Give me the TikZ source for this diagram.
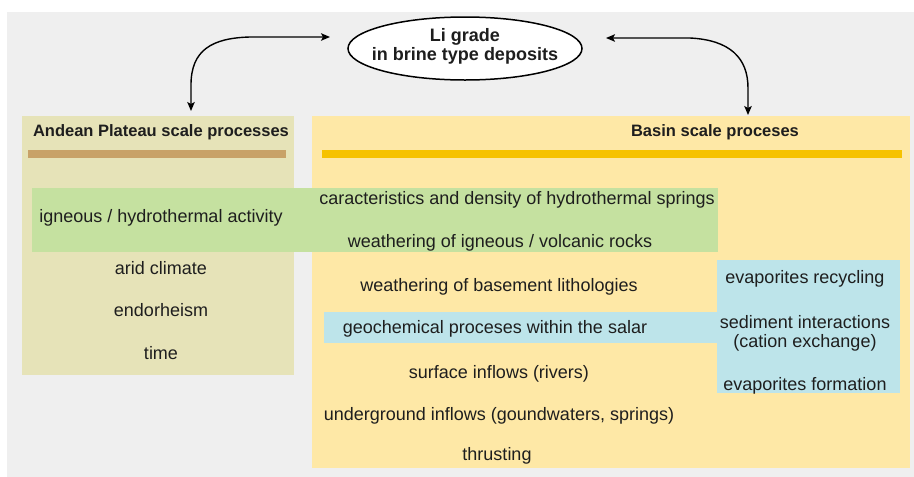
\documentclass[tikz,border=0pt]{standalone}
\usepackage{fontspec}
\setmainfont{Liberation Sans}
\usetikzlibrary{shapes.geometric,arrows.meta}
\definecolor{bggray}{RGB}{239,239,239}
\definecolor{andeanfill}{RGB}{230,227,184}
\definecolor{basinfill}{RGB}{254,232,166}
\definecolor{greenband}{RGB}{197,225,160}
\definecolor{blueband}{RGB}{189,228,234}
\definecolor{andeanbar}{RGB}{200,162,104}
\definecolor{basinbar}{RGB}{246,194,0}
\definecolor{txt}{RGB}{30,30,30}
\tikzset{
  boxnode/.style={rectangle, anchor=north west, inner sep=0, outer sep=0},
  lbl/.style={text=txt, font=\fontsize{18}{20}\selectfont, inner sep=0},
  ttl/.style={text=txt, font=\bfseries\fontsize{16.5}{19}\selectfont, inner sep=0},
  conn/.style={line width=1.4pt, {Stealth[length=9pt,width=7.5pt,inset=2pt]}-{Stealth[length=9pt,width=7.5pt,inset=2pt]}}
}
\begin{document}
\begin{tikzpicture}[x=1pt,y=-1pt]
\useasboundingbox (0,0) rectangle (914,477);
\fill[white] (0,0) rectangle (914,477);
\fill[bggray] (7,12) rectangle (914,477);
% boxes
\node[boxnode, fill=andeanfill, minimum width=272pt, minimum height=259pt] (andean) at (22,116) {};
\node[boxnode, fill=basinfill, minimum width=598pt, minimum height=352pt] (basin) at (312,116) {};
% bars
\fill[andeanbar] (28,150) rectangle (286,158);
\fill[basinbar] (322,150) rectangle (902,158);
% titles
\node[ttl] (tA) at (161,132.5) {Andean Plateau scale processes};
\node[ttl] (tB) at (715,132.5) {Basin scale proceses};
% green band
\fill[greenband] (32,188) rectangle (718,252);
% blue bands
\fill[blueband] (324,312) rectangle (718,343);
\fill[blueband] (717,260) rectangle (900,393);
% ellipse
\node[ellipse, draw=black, line width=1.5pt, fill=white, minimum width=234pt, minimum height=63pt, inner sep=0] (li) at (465,48.5) {};
\node[align=center, inner sep=0, text=txt, font=\bfseries\fontsize{18}{19}\selectfont] (litxt) at (465,46) {Li grade\\in brine type deposits};
% arrows
\coordinate (la) at (330,37);
\coordinate (lb) at (191,111);
\coordinate (ra) at (606,38);
\coordinate (rb) at (748,115);
\draw[conn] (la) -- (250,37) .. controls (212,38) and (191,50) .. (191,85) -- (lb);
\draw[conn] (ra) -- (690,38) .. controls (730,40) and (748,58) .. (748,88) -- (rb);
% left texts
\node[lbl] (n1) at (161,218) {igneous / hydrothermal activity};
\node[lbl] (n2) at (161,268.5) {arid climate};
\node[lbl] (n3) at (161,310.5) {endorheism};
\node[lbl] (n4) at (161,353.5) {time};
% basin texts
\node[lbl] (b1) at (517,200) {caracteristics and density of hydrothermal springs};
\node[lbl] (b2) at (500,242.5) {weathering of igneous / volcanic rocks};
\node[lbl] (b3) at (499,286.5) {weathering of basement lithologies};
\node[lbl] (b4) at (495,328.5) {geochemical proceses within the salar};
\node[lbl] (b5) at (499,373.5) {surface inflows (rivers)};
\node[lbl] (b6) at (499,415.5) {underground inflows (goundwaters, springs)};
\node[lbl] (b7) at (497,456) {thrusting};
% blue right texts
\node[lbl] (c1) at (805,278.5) {evaporites recycling};
\node[lbl] (c2) at (805,322.5) {sediment interactions};
\node[lbl] (c3) at (805,342.5) {(cation exchange)};
\node[lbl] (c4) at (805,385.5) {evaporites formation};
\end{tikzpicture}
\end{document}
